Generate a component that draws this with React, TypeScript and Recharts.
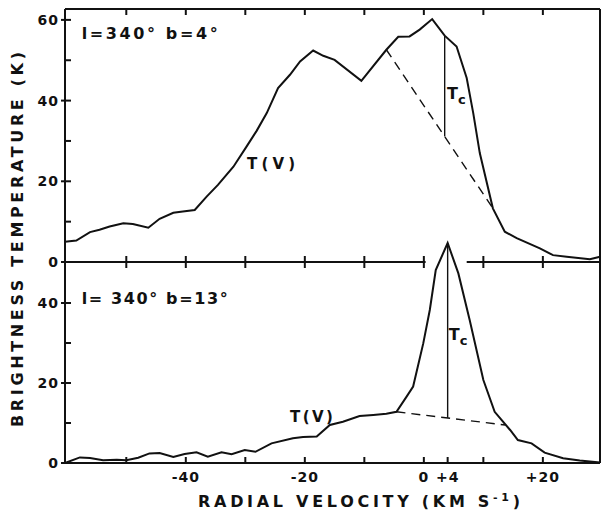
import React from 'react';
import { LineChart, Line, XAxis, YAxis, ReferenceLine, ReferenceDot } from 'recharts';

// radial velocity (km/s) vs brightness temperature (K)
// upper panel: l=340 b=4
const upperVelocity = [-60.3, -58.4, -56.1, -54.5, -52.8, -50.5, -48.9, -46.3, -44.4, -42.1, -40.5, -38.5, -36.5, -34.6, -32.0, -29.8, -28.1, -26.4, -24.5, -22.5, -20.8, -18.6, -16.9, -15.0, -10.5, -6.3, -4.3, -2.4, -0.7, 1.4, 3.5, 5.5, 7.2, 8.3, 9.4, 11.6, 13.6, 15.6, 19.5, 21.7, 24.0, 27.9, 29.6];
const upperTemp = [5.0, 5.3, 7.4, 8.0, 8.8, 9.6, 9.4, 8.5, 10.7, 12.2, 12.5, 12.9, 16.2, 19.1, 23.6, 28.6, 32.5, 36.9, 43.1, 46.4, 49.7, 52.4, 51.1, 50.1, 44.9, 52.6, 55.8, 55.9, 57.6, 60.2, 56.1, 53.4, 45.6, 36.9, 27.0, 13.3, 7.5, 5.9, 3.4, 1.7, 1.3, 0.7, 1.3];

// lower panel: l=340 b=13
const lowerVelocity = [-60.3, -57.8, -56.1, -53.9, -51.6, -50.0, -48.0, -46.1, -44.4, -42.1, -40.2, -38.2, -36.3, -34.0, -32.3, -30.1, -28.3, -25.6, -22.0, -20.3, -18.0, -15.8, -13.6, -10.8, -8.5, -6.3, -4.6, -2.9, -1.8, -0.1, 1.0, 2.0, 4.0, 5.8, 7.7, 10.0, 11.9, 14.5, 15.8, 18.1, 20.3, 23.4, 26.2, 29.6];
const lowerTemp = [0, 1.4, 1.25, 0.7, 0.8, 0.7, 1.3, 2.4, 2.5, 1.5, 2.25, 2.7, 1.6, 2.7, 2.2, 3.25, 2.8, 4.9, 6.2, 6.5, 6.6, 9.5, 10.3, 11.75, 12.0, 12.3, 12.8, 16.6, 19.1, 29.9, 38.25, 48.25, 55.0, 47.4, 35.75, 20.75, 12.8, 8.25, 5.75, 4.9, 2.6, 1.2, 0.6, 0.1];

// dashed baselines and Tc markers
const upperBaseline = [{ x: -6.3, y: 52.6 }, { x: 11.6, y: 13.3 }];
const upperTc = [{ x: 3.5, y: 56.1 }, { x: 3.5, y: 31.1 }];
const lowerBaseline = [{ x: -4.6, y: 12.8 }, { x: 13.7, y: 9.5 }];
const lowerTc = [{ x: 4.0, y: 55.0 }, { x: 4.0, y: 11.3 }];
// the middle axis is broken where the lower peak pokes through
const dividerLeft = [{ x: -60.3, y: 0 }, { x: 0.3, y: 0 }];
const dividerRight = [{ x: 7.2, y: 0 }, { x: 29.6, y: 0 }];

const velocityDomain = [-60.3, 29.6];
const upperDomain = [0, 62.7];
const lowerDomain = [0, 62.5];

const velocityTicks = [-50, -40, -30, -20, -10, 0, 10, 20];
const bottomTicks = [-50, -40, -30, -20, -10, 0, 4, 10, 20];
const bottomTickLabels: Record<string, string> = { '-40': '-40', '-20': '-20', '0': '0', '4': '+4', '20': '+20' };
const upperLeftTicks = [0, 10, 20, 30, 40, 50, 60];
const upperRightTicks = [10, 20, 30, 40, 50, 60];
const lowerLeftTicks = [0, 10, 20, 30, 40];
const lowerRightTicks = [10, 20, 30, 40];
const labeledTemps = [0, 20, 40, 60];

const upperData = upperVelocity.map((v, i) => ({ v, t: upperTemp[i] }));
const lowerData = lowerVelocity.map((v, i) => ({ v, t: lowerTemp[i] }));

const ink = '#111';
const font = '"DejaVu Sans", sans-serif';
const numStyle = { fontFamily: font, fontSize: 14, fontWeight: 600, letterSpacing: 1 };
const axisLine = { stroke: ink, strokeWidth: 2 };

const LeftTick = (props: any) => {
  const { x, y, payload } = props;
  const major = labeledTemps.includes(payload.value);
  return (
    <g>
      <line x1={major ? x - 4 : x} x2={x + 6} y1={y} y2={y} stroke={ink} strokeWidth={2} />
      {major && (
        <text x={x - 6} y={y} dy="0.36em" textAnchor="end" fill={ink} style={numStyle}>
          {payload.value}
        </text>
      )}
    </g>
  );
};

const RightTick = (props: any) => (
  <line x1={props.x - 6} x2={props.x} y1={props.y} y2={props.y} stroke={ink} strokeWidth={2} />
);

const TopTick = (props: any) => (
  <line x1={props.x} x2={props.x} y1={props.y} y2={props.y + 6} stroke={ink} strokeWidth={2} />
);

const CrossTick = (props: any) => (
  <line x1={props.x} x2={props.x} y1={props.y - 6} y2={props.y + 6} stroke={ink} strokeWidth={2} />
);

const BottomTick = (props: any) => {
  const { x, y, payload } = props;
  const label = bottomTickLabels[String(payload.value)];
  return (
    <g>
      <line x1={x} x2={x} y1={y - 6} y2={y} stroke={ink} strokeWidth={2} />
      {label && (
        <text x={x} y={y + 14} dy="0.36em" textAnchor="middle" fill={ink} style={numStyle}>
          {label}
        </text>
      )}
    </g>
  );
};

// text annotations anchored at data coordinates
const note = (text: string, size: number, length?: number) => (p: any) => (
  <text x={p.cx} y={p.cy} dy="0.36em" fill={ink} style={{ fontFamily: font, fontSize: size, fontWeight: 600 }}
    textLength={length} lengthAdjust="spacing">
    {text}
  </text>
);

const tcNote = (p: any) => (
  <text x={p.cx} y={p.cy} dy="0.36em" fill={ink} style={{ fontFamily: font, fontSize: 16, fontWeight: 600 }}>
    <tspan>T</tspan>
    <tspan dy={5} style={{ fontSize: 13 }}>c</tspan>
  </text>
);

const frame = { position: 'absolute' as const, left: 0, top: 0 };

export default function App() {
  return (
    <div style={{ ...frame, width: 602, height: 510, background: '#fff' }}>
      <div style={frame}>
        <LineChart width={602} height={510} data={upperData} margin={{ top: 0, right: 0, bottom: 0, left: 0 }}>
          <XAxis xAxisId="top" orientation="top" type="number" dataKey="v" domain={velocityDomain}
            ticks={velocityTicks} interval={0} height={9} tickSize={0} tickMargin={0}
            axisLine={axisLine} tick={TopTick} />
          <XAxis xAxisId="v" type="number" dataKey="v" domain={velocityDomain}
            ticks={velocityTicks} interval={0} height={248} tickSize={0} tickMargin={0}
            axisLine={false} tick={CrossTick} />
          <YAxis yAxisId="t" type="number" domain={upperDomain} ticks={upperLeftTicks} interval={0}
            width={65} tickSize={0} tickMargin={0} axisLine={axisLine} tick={LeftTick} />
          <YAxis yAxisId="r" orientation="right" type="number" domain={upperDomain} ticks={upperRightTicks}
            interval={0} width={2} tickSize={0} tickMargin={0} axisLine={axisLine} tick={RightTick} />
          <ReferenceLine xAxisId="v" yAxisId="t" segment={dividerLeft} stroke={ink} strokeWidth={2} />
          <ReferenceLine xAxisId="v" yAxisId="t" segment={dividerRight} stroke={ink} strokeWidth={2} />
          <ReferenceLine xAxisId="v" yAxisId="t" segment={upperBaseline} stroke={ink} strokeWidth={1.4} strokeDasharray="9 6" />
          <ReferenceLine xAxisId="v" yAxisId="t" segment={upperTc} stroke={ink} strokeWidth={1.4} />
          <ReferenceDot xAxisId="v" yAxisId="t" x={-57.5} y={56.8} r={0} shape={note('l=340° b=4°', 16, 136)} />
          <ReferenceDot xAxisId="v" yAxisId="t" x={-29.7} y={24.5} r={0} shape={note('T(V)', 15, 48)} />
          <ReferenceDot xAxisId="v" yAxisId="t" x={3.9} y={41.7} r={0} shape={tcNote} />
          <Line xAxisId="v" yAxisId="t" dataKey="t" type="linear" dot={false} stroke={ink}
            strokeWidth={2} isAnimationActive={false} />
        </LineChart>
      </div>
      <div style={frame}>
        <LineChart width={602} height={510} data={lowerData} margin={{ top: 213, right: 0, bottom: 0, left: 0 }}>
          <XAxis xAxisId="v" type="number" dataKey="v" domain={velocityDomain}
            ticks={bottomTicks} interval={0} height={47} tickSize={0} tickMargin={0}
            axisLine={axisLine} tick={BottomTick} />
          <YAxis yAxisId="t" type="number" domain={lowerDomain} ticks={lowerLeftTicks} interval={0}
            width={65} tickSize={0} tickMargin={0} axisLine={axisLine} tick={LeftTick} />
          <YAxis yAxisId="r" orientation="right" type="number" domain={lowerDomain} ticks={lowerRightTicks}
            interval={0} width={2} tickSize={0} tickMargin={0} axisLine={axisLine} tick={RightTick} />
          <ReferenceLine xAxisId="v" yAxisId="t" segment={lowerBaseline} stroke={ink} strokeWidth={1.4} strokeDasharray="9 6" />
          <ReferenceLine xAxisId="v" yAxisId="t" segment={lowerTc} stroke={ink} strokeWidth={1.4} />
          <ReferenceDot xAxisId="v" yAxisId="t" x={-57.5} y={41.2} r={0} shape={note('l= 340° b=13°', 16, 146)} />
          <ReferenceDot xAxisId="v" yAxisId="t" x={-22.5} y={11.5} r={0} shape={note('T(V)', 15, 43)} />
          <ReferenceDot xAxisId="v" yAxisId="t" x={4.2} y={32.2} r={0} shape={tcNote} />
          <Line xAxisId="v" yAxisId="t" dataKey="t" type="linear" dot={false} stroke={ink}
            strokeWidth={2} isAnimationActive={false} />
        </LineChart>
      </div>
      <svg width={602} height={510} style={{ ...frame, pointerEvents: 'none' }}>
        <text transform="translate(17.5,239.5) rotate(-90)" textAnchor="middle" dy="0.36em" fill={ink}
          style={{ fontFamily: font, fontSize: 16, fontWeight: 600 }} textLength={375} lengthAdjust="spacing">
          BRIGHTNESS TEMPERATURE (K)
        </text>
        <text x={359} y={501} textAnchor="middle" dy="0.36em" fill={ink}
          style={{ fontFamily: font, fontSize: 16, fontWeight: 600 }} textLength={322} lengthAdjust="spacing">
          RADIAL VELOCITY (KM S<tspan dy={-6} style={{ fontSize: 11 }}>-1</tspan><tspan dy={6}>)</tspan>
        </text>
      </svg>
    </div>
  );
}
